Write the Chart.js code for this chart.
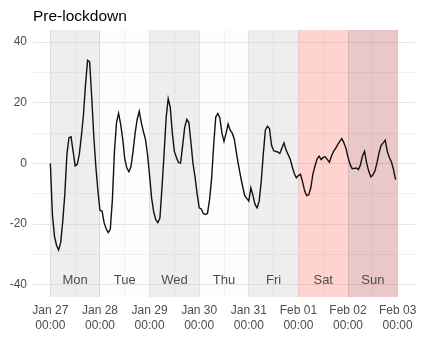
<!DOCTYPE html>
<html><head><meta charset="utf-8">
<script src="https://cdn.jsdelivr.net/npm/chart.js@4/dist/chart.umd.min.js"></script>
<style>html,body{margin:0;padding:0;background:#fff}</style>
</head><body>
<canvas id="c" width="423" height="338"></canvas>
<script>
const titleText = 'Pre-lockdown';
const dayNames = ['Mon','Tue','Wed','Thu','Fri','Sat','Sun'];
const dayTickLabels = [['Jan 27','00:00'],['Jan 28','00:00'],['Jan 29','00:00'],['Jan 30','00:00'],['Jan 31','00:00'],['Feb 01','00:00'],['Feb 02','00:00'],['Feb 03','00:00']];
const yTickValues = [-40,-30,-20,-10,0,10,20,30,40];
const yLabelValues = [-40,-20,0,20,40];
const dayLabelValue = -38.7;
// hourly values starting Jan 27 00:00
const values = [
 0,-17,-24,-27,-28.5,-26,-19,-10,3,8.5,8.8,4,-0.8,-0.3,3,9,16,26,34,33.5,22,9,-1,-9,
 -15.5,-15.7,-19.5,-21.5,-22.8,-21.7,-12,4,13.5,16.5,13,8,1.5,-1.5,-2.7,-1,4,10,14.5,17.2,13.5,10.5,8,3,
 -4,-11.5,-16,-18.5,-19.5,-18,-8,3,15,21.4,18.5,10,4,2,0.3,0.2,6,12,14.5,13.5,7,0,-4.5,-10,
 -14.6,-15,-16.5,-16.8,-16.5,-12,-5,6,15.3,16.5,15,10,7.3,10,13,11,10,8,3.5,-0.5,-4.2,-7.5,-10.5,-11.5,
 -12.4,-8,-10.5,-13.5,-14.6,-12.5,-6,3,11,12.3,11.5,6,4.2,4,3.8,3.3,5,6.8,4.5,3,1.5,-1,-3.3,-4.7,
 -4,-3.6,-6,-9,-10.6,-10.3,-8,-3.5,-0.9,1.5,2.4,1.3,2,2.2,1.3,0.4,2.5,4,5,6.2,7.3,8.2,6.8,5,
 2,-0.3,-1.7,-1.6,-1.5,-2,-0.5,2.5,4,0.2,-2.5,-4.4,-3.8,-2.5,0.2,3.5,6,6.8,7.7,4,2,0.5,-2,-5.3
];
const bandFills = ['rgba(185,182,185,0.24)','rgba(245,215,230,0.08)','rgba(185,182,185,0.24)','rgba(245,215,230,0.08)','rgba(185,182,185,0.24)','rgba(255,110,92,0.3)','rgba(182,74,68,0.3)'];

const points = values.map((v,i)=>({x:i, y:v}));
const xTickValues = [];
for (let h = 0; h <= 168; h += 12) xTickValues.push(h);

const bandsPlugin = {
  id: 'bands',
  beforeDatasetsDraw(chart) {
    const {ctx, chartArea, scales:{x, y}} = chart;
    ctx.save();
    dayNames.forEach((d,i)=>{
      const x0 = x.getPixelForValue(i*24), x1 = x.getPixelForValue((i+1)*24);
      ctx.fillStyle = bandFills[i];
      ctx.fillRect(x0, chartArea.top, x1-x0, chartArea.bottom-chartArea.top);
    });
    ctx.fillStyle = '#4d4d4d';
    ctx.font = '13px "Liberation Sans", Arial, sans-serif';
    ctx.textAlign = 'center';
    ctx.textBaseline = 'middle';
    dayNames.forEach((d,i)=>{
      ctx.fillText(d, x.getPixelForValue(i*24+12), y.getPixelForValue(dayLabelValue));
    });
    ctx.restore();
  },
  afterDraw(chart) {
    const {ctx} = chart;
    ctx.save();
    ctx.fillStyle = '#000';
    ctx.font = '15.5px "Liberation Sans", Arial, sans-serif';
    ctx.textAlign = 'left';
    ctx.textBaseline = 'alphabetic';
    ctx.fillText(titleText, 33, 20.5);
    ctx.restore();
  }
};

new Chart(document.getElementById('c'), {
  type: 'line',
  data: { datasets: [{ data: points, borderColor: '#111', borderWidth: 1.4, pointRadius: 0, tension: 0, fill: false }] },
  options: {
    responsive: false, animation: false,
    layout: { padding: { top: 30, right: 8, left: 0, bottom: 0 } },
    plugins: { legend: { display: false }, tooltip: { enabled: false }, title: { display: false } },
    scales: {
      x: {
        type: 'linear', min: -8.4, max: 176.4,
        afterBuildTicks(s) { s.ticks = xTickValues.map(v=>({value:v})); },
        afterFit(s) { s.height = 41; },
        grid: { drawTicks: false, color: ctx => (ctx.tick && ctx.tick.value % 24 === 0) ? '#e6e6e6' : '#f0f0f0', lineWidth: 1 },
        border: { display: false },
        ticks: {
          autoSkip: false, maxRotation: 0, padding: 6, color: '#4d4d4d',
          font: { family: '"Liberation Sans", Arial, sans-serif', size: 12, lineHeight: 1.25 },
          callback: v => (v % 24 === 0) ? dayTickLabels[v/24] : ''
        }
      },
      y: {
        min: -44, max: 44,
        afterBuildTicks(s) { s.ticks = yTickValues.map(v=>({value:v})); },
        afterFit(s) { s.width = 33; },
        grid: { drawTicks: false, color: ctx => (ctx.tick && yLabelValues.includes(ctx.tick.value)) ? '#e6e6e6' : '#f0f0f0', lineWidth: 1 },
        border: { display: false },
        ticks: {
          padding: 6, color: '#4d4d4d',
          font: { family: '"Liberation Sans", Arial, sans-serif', size: 12 },
          callback: v => yLabelValues.includes(v) ? String(v) : ''
        }
      }
    }
  },
  plugins: [bandsPlugin]
});
</script>
</body></html>
